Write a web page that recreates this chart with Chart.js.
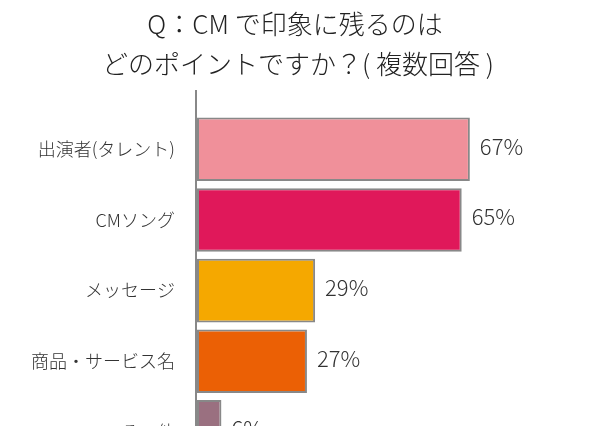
<!DOCTYPE html>
<html><head><meta charset="utf-8">
<script src="https://cdn.jsdelivr.net/npm/chart.js@4"></script>
<style>html,body{margin:0;padding:0;overflow:hidden;background:#fff;width:590px;height:426px}canvas{display:block}</style>
</head><body><canvas id="c" width="590" height="500" style="width:590px;height:500px"></canvas>
<script>
const categories = ['出演者(タレント)','CMソング','メッセージ','商品・サービス名','その他'];
const values = [67,65,29,27,6];
const colors = ['#F0909A','#E0185A','#F5A800','#EB6005','#9A7080'];
const titleLines = ['Q：CM で印象に残るのは','どのポイントですか？( 複数回答 )'];
const FONT = '"Noto Sans CJK JP","Noto Sans",sans-serif';
const extra = {
  id:'extra',
  afterDraw(ch){
    const c=ch.ctx, x=ch.scales.x;
    c.save();
    c.fillStyle='#222'; c.textAlign='center'; c.textBaseline='middle';
    c.font='300 26px '+FONT;
    c.fillText(titleLines[0],295,24);
    c.fillText(titleLines[1],298,64);
    c.strokeStyle='#888'; c.lineWidth=2;
    c.beginPath(); c.moveTo(x.left-1,90); c.lineTo(x.left-1,ch.chartArea.bottom); c.stroke();
    c.font='300 22px '+FONT; c.fillStyle='#333'; c.textAlign='left';
    ch.getDatasetMeta(0).data.forEach((b,i)=>{ c.fillText(values[i]+'%', b.x+10, b.y-3); });
    c.restore();
  }
};
new Chart(document.getElementById('c'),{
  type:'bar',
  data:{labels:categories,datasets:[{data:values,backgroundColor:colors,borderColor:'#888',borderWidth:2,borderSkipped:false,barPercentage:0.9,categoryPercentage:1}]},
  options:{indexAxis:'y',responsive:false,devicePixelRatio:1,animation:false,
    layout:{padding:{top:114,left:0,right:0,bottom:6}},
    plugins:{legend:{display:false},tooltip:{enabled:false}},
    scales:{
      x:{display:false,min:0,max:96.5},
      y:{afterFit(s){s.width=197;},grid:{display:false,drawTicks:false},border:{display:false},
         ticks:{padding:22,color:'#333',font:{size:18,weight:'300',family:FONT}}}
    }},
  plugins:[extra]
});
</script></body></html>
